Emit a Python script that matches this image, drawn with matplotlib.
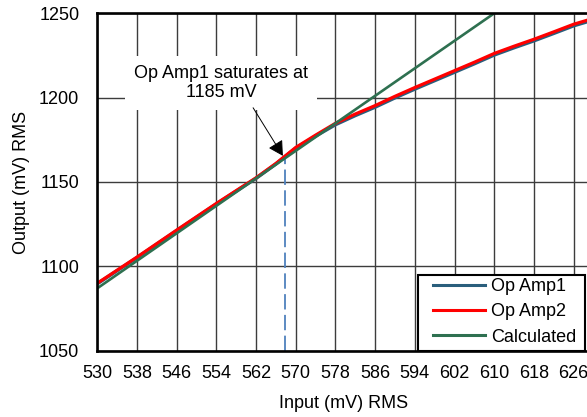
import matplotlib
matplotlib.use("Agg")
import matplotlib.pyplot as plt
from matplotlib.patches import Rectangle

plt.rcParams["font.family"] = ["Liberation Sans", "DejaVu Sans"]

# input (mV RMS) sample points
input_mv = [530, 538, 546, 554, 562, 566, 570, 574, 578, 582, 586, 590, 594,
            598, 602, 606, 610, 614, 618, 622, 626, 630]
amp2_out = [1090.0, 1105.5, 1121.5, 1137.3, 1152.5, 1161.0, 1170.5, 1177.8,
            1184.8, 1190.3, 1195.3, 1200.8, 1206.0, 1211.0, 1216.0, 1221.0,
            1226.2, 1230.5, 1234.6, 1239.0, 1243.5, 1247.0]
amp1_out = [1089.7, 1105.2, 1121.2, 1137.0, 1152.2, 1160.7, 1170.1, 1177.2,
            1184.0, 1189.4, 1194.4, 1199.9, 1205.1, 1210.1, 1215.1, 1220.1,
            1225.3, 1229.6, 1233.7, 1238.1, 1242.6, 1246.1]
calc_in = [530, 610]
calc_out = [1087.0, 1250.0]

sat_in = 567.8
sat_out = 1165.0
note = "Op Amp1 saturates at\n1185 mV"

x_ticks = list(range(530, 635, 8))
y_ticks = [1050, 1100, 1150, 1200, 1250]

fs = 13

fig = plt.figure(figsize=(5.87, 4.17), dpi=100)
ax = fig.add_axes([0.1658, 0.159, 0.879, 0.8091])

ax.plot(input_mv, amp1_out, color="#2A5E7C", lw=2.5, label="Op Amp1", zorder=3)
ax.plot(input_mv, amp2_out, color="#FF0000", lw=2.3, label="Op Amp2", zorder=4)
ax.plot(calc_in, calc_out, color="#2E7050", lw=1.9, label="Calculated", zorder=5)

# saturation marker
ax.plot([sat_in, sat_in], [1050, sat_out], color="#4F81BD", lw=1.3,
        dashes=(8.5, 3), zorder=2)

ax.set_xlim(530, 634)
ax.set_ylim(1050, 1250)
ax.set_xticks(x_ticks)
ax.set_yticks(y_ticks)
ax.tick_params(length=0, labelsize=fs)
ax.tick_params(axis="x", pad=10)
ax.tick_params(axis="y", pad=13)

ax.grid(True, color="#3c3c3c", lw=1.0)
ax.set_axisbelow(True)
for side in ["left", "bottom", "top"]:
    ax.spines[side].set_linewidth(1.9)
    ax.spines[side].set_color("black")
    ax.spines[side].set_zorder(9)
ax.spines["right"].set_visible(False)

ax.set_xlabel("Input (mV) RMS", fontsize=fs)
ax.set_ylabel("Output (mV) RMS", fontsize=fs)
ax.xaxis.set_label_coords(0.478, -0.13)
ax.yaxis.set_label_coords(-0.13, 0.5)

ax.text(555.0, 1208.7, note, ha="center", va="center", fontsize=fs,
        linespacing=1.15, zorder=6,
        bbox=dict(boxstyle="square,pad=0.5", fc="white", ec="none"))
ax.annotate("", xy=(567.4, 1165.5), xytext=(561.4, 1194.0), zorder=7,
            arrowprops=dict(arrowstyle="-|>,head_length=0.45,head_width=0.25",
                            color="black", lw=0.7, mutation_scale=20,
                            shrinkA=0, shrinkB=0))

# legend box drawn separately so the inner padding can match
ax.add_patch(Rectangle((0.6215, 0.0), 0.3236, 0.2253, transform=ax.transAxes,
                       fc="white", ec="black", lw=1.5, zorder=7))
leg = ax.legend(loc="lower left", bbox_to_anchor=(0.6436, 0.004), fontsize=fs,
                frameon=False, borderaxespad=0, handlelength=2.9,
                handletextpad=0.33, labelspacing=0.46, borderpad=0.2)
leg.set_zorder(8)
for line in leg.get_lines():
    line.set_linewidth(2.2)

fig.savefig("out.png", dpi=100)
